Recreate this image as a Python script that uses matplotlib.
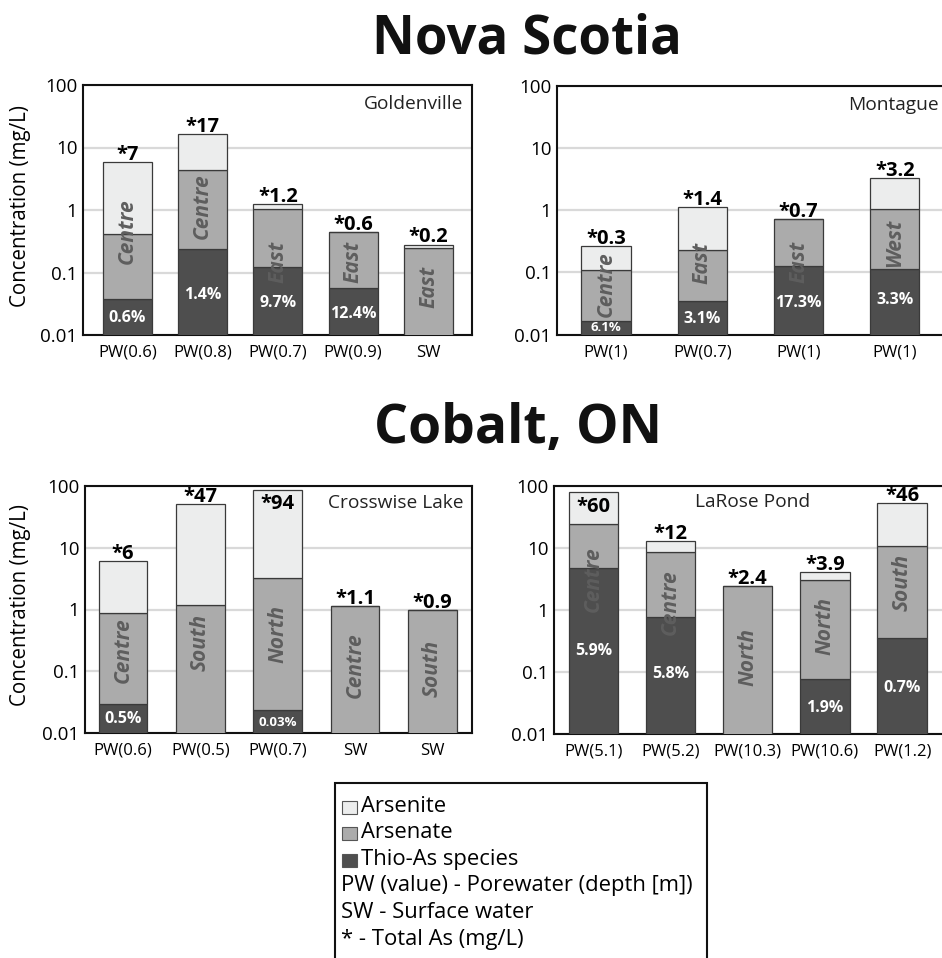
import matplotlib
matplotlib.use("Agg")
import matplotlib.pyplot as plt
from matplotlib.patches import Rectangle
from matplotlib.ticker import NullLocator, FixedLocator, FixedFormatter
import numpy as np

plt.rcParams['font.family'] = ['Open Sans', 'DejaVu Sans']

# ---------------- data (mg/L) ----------------
# Nova Scotia - Goldenville
gold_xlabels = ["PW(0.6)", "PW(0.8)", "PW(0.7)", "PW(0.9)", "SW"]
gold_thio = [0.038, 0.235, 0.122, 0.056, 0.0]
gold_arsenate = [0.38, 4.2, 0.93, 0.385, 0.25]
gold_arsenite = [5.4, 12.2, 0.21, 0.01, 0.03]
gold_total = [7, 17, 1.2, 0.6, 0.2]
gold_pct = [0.6, 1.4, 9.7, 12.4, None]
gold_region = ["Centre", "Centre", "East", "East", "East"]

# Nova Scotia - Montague
mont_xlabels = ["PW(1)", "PW(0.7)", "PW(1)", "PW(1)"]
mont_thio = [0.0162, 0.035, 0.125, 0.112]
mont_arsenate = [0.092, 0.192, 0.585, 0.93]
mont_arsenite = [0.156, 0.893, 0.01, 2.27]
mont_total = [0.3, 1.4, 0.7, 3.2]
mont_pct = [6.1, 3.1, 17.3, 3.3]
mont_region = ["Centre", "East", "East", "West"]

# Cobalt, ON - Crosswise Lake
cross_xlabels = ["PW(0.6)", "PW(0.5)", "PW(0.7)", "SW", "SW"]
cross_thio = [0.0298, 0.0, 0.0232, 0.0, 0.0]
cross_arsenate = [0.86, 1.2, 3.21, 1.15, 0.97]
cross_arsenite = [5.18, 50.0, 82.8, 0.0, 0.0]
cross_total = [6, 47, 94, 1.1, 0.9]
cross_pct = [0.5, None, 0.03, None, None]
cross_region = ["Centre", "South", "North", "Centre", "South"]

# Cobalt, ON - LaRose Pond
lar_xlabels = ["PW(5.1)", "PW(5.2)", "PW(10.3)", "PW(10.6)", "PW(1.2)"]
lar_thio = [4.68, 0.771, 0.0, 0.0757, 0.359]
lar_arsenate = [20.1, 7.8, 2.46, 2.96, 10.3]
lar_arsenite = [54.2, 4.33, 0.0, 0.99, 43.2]
lar_total = [60, 12, 2.4, 3.9, 46]
lar_pct = [5.9, 5.8, None, 1.9, 0.7]
lar_region = ["Centre", "Centre", "North", "North", "South"]

legend_species = ["Arsenite", "Arsenate", "Thio-As species"]
legend_notes = ["PW (value) - Porewater (depth [m])", "SW - Surface water", "* - Total As (mg/L)"]

# ---------------- layout / style ----------------
C_ARSENITE = '#ECEDED'
C_ARSENATE = '#ABABAB'
C_THIO = '#4E4E4E'
EDGE = '#3a3a3a'
species_colors = [C_ARSENITE, C_ARSENATE, C_THIO]

W, H = 942, 958
fig = plt.figure(figsize=(W / 100, H / 100), dpi=100)


def add_axes_px(l, t, r, b):
    return fig.add_axes([l / W, 1 - b / H, (r - l) / W, (b - t) / H])


def panel(ax, name, name_xy, name_ha, xlabels, thio, arsenate, arsenite, totals, pct,
          regions, region_y, pct_y, xlim, width):
    x = np.arange(len(xlabels))
    thio = np.array(thio, float)
    arsenate = np.array(arsenate, float)
    arsenite = np.array(arsenite, float)
    ax.set_yscale('log')
    kw = dict(width=width, edgecolor=EDGE, linewidth=0.9, zorder=3)
    ax.bar(x, thio, color=C_THIO, **kw)
    ax.bar(x, arsenate, bottom=thio, color=C_ARSENATE, **kw)
    ax.bar(x, arsenite, bottom=thio + arsenate, color=C_ARSENITE, **kw)
    ax.set_ylim(0.01, 100)
    ax.set_xlim(*xlim)
    ax.yaxis.set_major_locator(FixedLocator([0.01, 0.1, 1, 10, 100]))
    ax.yaxis.set_major_formatter(FixedFormatter(["0.01", "0.1", "1", "10", "100"]))
    ax.yaxis.set_minor_locator(NullLocator())
    ax.set_xticks(x)
    ax.set_xticklabels(xlabels, fontsize=12)
    ax.tick_params(axis='both', length=0)
    ax.tick_params(axis='y', labelsize=13.5, pad=4)
    ax.tick_params(axis='x', pad=7)
    ax.yaxis.grid(True, color='#d9d9d9', linewidth=1.6, zorder=0)
    ax.set_axisbelow(True)
    for s in ax.spines.values():
        s.set_linewidth(1.5)
        s.set_color('#111111')
    ax.text(name_xy[0], name_xy[1], name, transform=ax.transAxes, ha=name_ha, va='center',
            fontsize=13.8, color='#222222', zorder=6)
    top = thio + arsenate + arsenite
    for i in range(len(x)):
        frac = (np.log10(top[i]) + 2) / 4
        if frac > 0.95:
            ax.annotate(f"*{totals[i]:g}", (x[i], top[i]), xytext=(0, -3), textcoords='offset points',
                        ha='center', va='top', fontsize=14.5, fontweight='bold', zorder=6)
        else:
            ax.annotate(f"*{totals[i]:g}", (x[i], top[i]), xytext=(0, 1.5), textcoords='offset points',
                        ha='center', va='baseline', fontsize=14.5, fontweight='bold', zorder=6)
        ax.text(x[i], region_y[i], regions[i], rotation=90, ha='center', va='center',
                fontsize=15, fontweight='bold', fontstyle='italic', color='#5e5e5e', zorder=5)
        if pct[i] is not None:
            fs = 9.5 if thio[i] < 0.025 else 11.5
            ax.text(x[i], pct_y[i], f"{pct[i]:g}%", ha='center', va='center', color='white',
                    fontsize=fs, fontweight='bold', zorder=5)


ax1 = add_axes_px(83, 85, 472, 335)
panel(ax1, "Goldenville", (0.977, 0.925), 'right', gold_xlabels, gold_thio, gold_arsenate,
      gold_arsenite, gold_total, gold_pct, gold_region,
      [0.46, 1.16, 0.149, 0.149, 0.059], [0.0185, 0.0436, 0.032, 0.022, None],
      (-0.588, 4.578), 0.65)

ax2 = add_axes_px(557, 86, 947, 334.5)
panel(ax2, "Montague", (0.98, 0.925), 'right', mont_xlabels, mont_thio, mont_arsenate,
      mont_arsenite, mont_total, mont_pct, mont_region,
      [0.065, 0.14, 0.149, 0.295], [0.0128, 0.018, 0.0316, 0.0359],
      (-0.509, 3.541), 0.51)

ax3 = add_axes_px(85, 486, 472, 733)
panel(ax3, "Crosswise Lake", (0.977, 0.93), 'right', cross_xlabels, cross_thio, cross_arsenate,
      cross_arsenite, cross_total, cross_pct, cross_region,
      [0.222, 0.295, 0.40, 0.124, 0.11], [0.0168, None, 0.0149, None, None],
      (-0.492, 4.515), 0.63)

ax4 = add_axes_px(554, 486, 947, 734)
panel(ax4, "LaRose Pond", (0.505, 0.935), 'center', lar_xlabels, lar_thio, lar_arsenate,
      lar_arsenite, lar_total, lar_pct, lar_region,
      [3.15, 1.33, 0.173, 0.56, 2.79], [0.219, 0.093, None, 0.026, 0.056],
      (-0.509, 4.581), 0.64)

# y labels
fig.text(21 / W, 1 - 206 / H, "Concentration (mg/L)", rotation=90, ha='center', va='center', fontsize=14.8)
fig.text(21 / W, 1 - 605 / H, "Concentration (mg/L)", rotation=90, ha='center', va='center', fontsize=14.8)

# section titles
fig.text(527 / W, 1 - 53 / H, "Nova Scotia", ha='center', va='baseline', fontsize=38, fontweight='bold',
         color='#111111')
fig.text(518 / W, 1 - 443 / H, "Cobalt, ON", ha='center', va='baseline', fontsize=38.5, fontweight='bold',
         color='#111111')

# legend box
fig.add_artist(Rectangle((335 / W, 1 - 1000 / H), (707 - 335) / W, (1000 - 783) / H,
                         transform=fig.transFigure, fill=False, linewidth=1.5, edgecolor='#111111'))
ys = [807, 833, 860, 886, 913, 939]
for i, (lab, col) in enumerate(zip(legend_species, species_colors)):
    yc = ys[i]
    fig.add_artist(Rectangle((342 / W, 1 - (yc + 6.5) / H), 15 / W, 13 / H, transform=fig.transFigure,
                             facecolor=col, edgecolor='#555555', linewidth=0.8))
    fig.text(361 / W, 1 - yc / H, lab, ha='left', va='center', fontsize=15.8)
for j, note in enumerate(legend_notes):
    fig.text(341 / W, 1 - ys[3 + j] / H, note, ha='left', va='center', fontsize=15.8)

fig.savefig("out.png", dpi=100)
